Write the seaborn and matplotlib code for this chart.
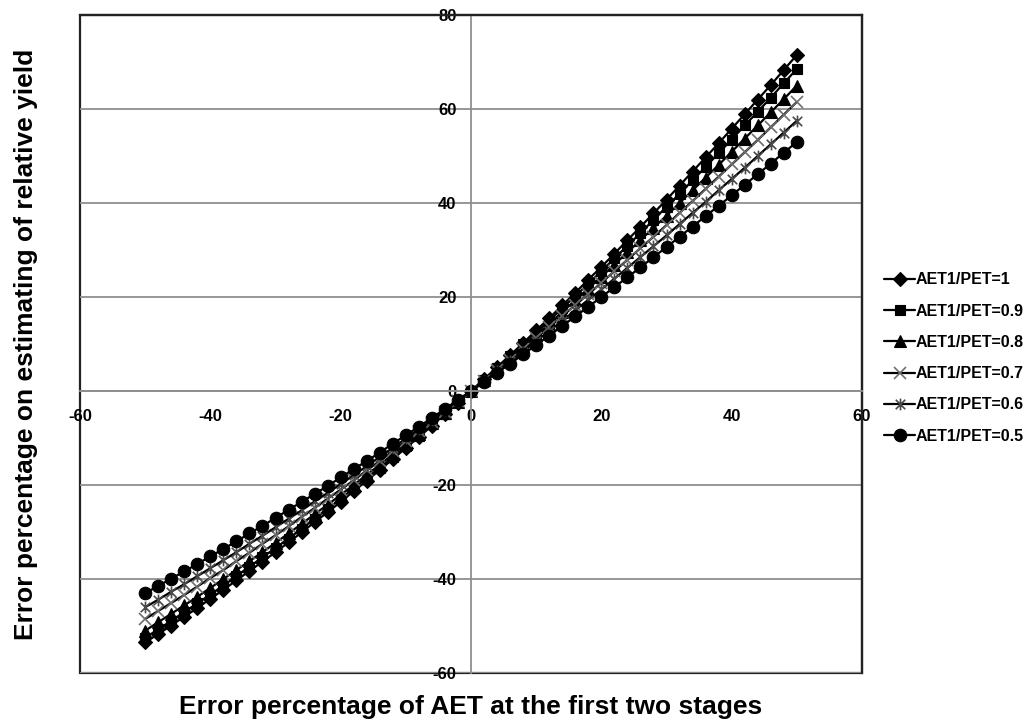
import numpy as np
import pandas as pd
import matplotlib
matplotlib.use("Agg")
import matplotlib.pyplot as plt
from matplotlib.path import Path
import seaborn as sns

# ---------------- data ----------------
x_err = [-50, -48, -46, -44, -42, -40, -38, -36, -34, -32, -30, -28, -26, -24, -22,
         -20, -18, -16, -14, -12, -10, -8, -6, -4, -2, 0, 2, 4, 6, 8, 10, 12, 14,
         16, 18, 20, 22, 24, 26, 28, 30, 32, 34, 36, 38, 40, 42, 44, 46, 48, 50]

y_r10 = [-53.5, -51.7, -49.9, -48.0, -46.2, -44.2, -42.3, -40.3, -38.3, -36.3, -34.3, -32.2, -30.1,
         -27.9, -25.8, -23.6, -21.3, -19.1, -16.8, -14.5, -12.1, -9.8, -7.4, -4.9, -2.5, 0.0,
         2.5, 5.1, 7.6, 10.2, 12.9, 15.5, 18.2, 20.9, 23.7, 26.4, 29.2, 32.1, 34.9, 37.8, 40.7,
         43.7, 46.7, 49.7, 52.7, 55.8, 58.9, 62.0, 65.1, 68.3, 71.5]
y_r09 = [-52.5, -50.7, -48.9, -47.0, -45.2, -43.3, -41.4, -39.4, -37.4, -35.4, -33.4, -31.4, -29.3,
         -27.2, -25.1, -22.9, -20.7, -18.5, -16.3, -14.1, -11.8, -9.5, -7.1, -4.8, -2.4, 0.0,
         2.4, 4.9, 7.4, 9.9, 12.4, 15.0, 17.6, 20.2, 22.8, 25.5, 28.2, 30.9, 33.6, 36.4, 39.2,
         42.0, 44.8, 47.7, 50.6, 53.5, 56.5, 59.4, 62.4, 65.5, 68.5]
y_r08 = [-51.0, -49.2, -47.4, -45.6, -43.8, -41.9, -40.0, -38.1, -36.2, -34.3, -32.3, -30.3, -28.3,
         -26.2, -24.2, -22.1, -20.0, -17.8, -15.7, -13.5, -11.3, -9.1, -6.9, -4.6, -2.3, 0.0,
         2.3, 4.7, 7.1, 9.5, 11.9, 14.3, 16.8, 19.3, 21.8, 24.3, 26.9, 29.5, 32.1, 34.7, 37.3,
         40.0, 42.7, 45.4, 48.1, 50.9, 53.7, 56.5, 59.3, 62.1, 65.0]
y_r07 = [-48.5, -46.8, -45.1, -43.4, -41.6, -39.8, -38.1, -36.2, -34.4, -32.5, -30.7, -28.8, -26.8,
         -24.9, -22.9, -21.0, -19.0, -16.9, -14.9, -12.8, -10.7, -8.6, -6.5, -4.4, -2.2, 0.0,
         2.2, 4.4, 6.7, 9.0, 11.3, 13.6, 15.9, 18.3, 20.6, 23.0, 25.5, 27.9, 30.4, 32.8, 35.3,
         37.9, 40.4, 43.0, 45.6, 48.2, 50.8, 53.4, 56.1, 58.8, 61.5]
y_r06 = [-46.0, -44.4, -42.7, -41.1, -39.4, -37.7, -36.0, -34.3, -32.5, -30.8, -29.0, -27.2, -25.4,
         -23.5, -21.7, -19.8, -17.9, -16.0, -14.0, -12.1, -10.1, -8.1, -6.1, -4.1, -2.1, 0.0,
         2.1, 4.2, 6.3, 8.4, 10.6, 12.8, 14.9, 17.2, 19.4, 21.6, 23.9, 26.2, 28.5, 30.8, 33.1,
         35.5, 37.9, 40.2, 42.7, 45.1, 47.5, 50.0, 52.5, 55.0, 57.5]
y_r05 = [-43.0, -41.5, -39.9, -38.4, -36.8, -35.2, -33.6, -32.0, -30.3, -28.7, -27.0, -25.3, -23.6,
         -21.9, -20.2, -18.4, -16.6, -14.9, -13.1, -11.2, -9.4, -7.6, -5.7, -3.8, -1.9, 0.0,
         1.9, 3.9, 5.8, 7.8, 9.8, 11.8, 13.8, 15.9, 17.9, 20.0, 22.1, 24.2, 26.3, 28.5, 30.6,
         32.8, 35.0, 37.2, 39.4, 41.6, 43.9, 46.1, 48.4, 50.7, 53.0]

series_names = ["AET1/PET=1", "AET1/PET=0.9", "AET1/PET=0.8",
                "AET1/PET=0.7", "AET1/PET=0.6", "AET1/PET=0.5"]
series_values = [y_r10, y_r09, y_r08, y_r07, y_r06, y_r05]

x_ticks = [-60, -40, -20, 0, 20, 40, 60]
y_ticks = [-60, -40, -20, 0, 20, 40, 60, 80]

x_label = "Error percentage of AET at the first two stages"
y_label = "Error percentage on estimating of relative yield"

df = pd.concat(
    [pd.DataFrame({"x": x_err, "y": vals, "series": name})
     for name, vals in zip(series_names, series_values)],
    ignore_index=True)

# ---------------- style ----------------
sns.set_style("white")
plt.rcParams["font.family"] = ["Liberation Sans", "DejaVu Sans"]
plt.rcParams["text.color"] = "black"
plt.rcParams["axes.labelcolor"] = "black"

star = Path([(-1, -1), (1, 1), (-1, 1), (1, -1), (0, -1.25), (0, 1.25)],
            [Path.MOVETO, Path.LINETO, Path.MOVETO, Path.LINETO, Path.MOVETO, Path.LINETO])

styles = {
    "AET1/PET=1":   dict(marker="D", markersize=7.0, markerfacecolor="black", markeredgecolor="black", markeredgewidth=0.8),
    "AET1/PET=0.9": dict(marker="s", markersize=7.5, markerfacecolor="black", markeredgecolor="black", markeredgewidth=0.8),
    "AET1/PET=0.8": dict(marker="^", markersize=8.5, markerfacecolor="black", markeredgecolor="black", markeredgewidth=0.8),
    "AET1/PET=0.7": dict(marker="x", markersize=8.0, markerfacecolor="none", markeredgecolor="#6e6e6e", markeredgewidth=1.2),
    "AET1/PET=0.6": dict(marker=star, markersize=8.5, markerfacecolor="none", markeredgecolor="#4a4a4a", markeredgewidth=1.2),
    "AET1/PET=0.5": dict(marker="o", markersize=9.0, markerfacecolor="black", markeredgecolor="black", markeredgewidth=0.8),
}

W, H = 1033, 723
fig = plt.figure(figsize=(W / 100, H / 100), dpi=100)
ax = fig.add_axes([80 / W, 1 - 673 / H, 782 / W, 658 / H])

for name in series_names:
    sns.lineplot(data=df[df["series"] == name], x="x", y="y", ax=ax,
                 color="black", linewidth=1.6, label=name, legend=False,
                 errorbar=None, sort=False, **styles[name])

ax.set_xlim(-60, 60)
ax.set_ylim(-60, 80)
ax.set_xticks(x_ticks)
ax.set_yticks(y_ticks)
ax.set_xticklabels([str(v) for v in x_ticks])
ax.set_yticklabels([str(v) for v in y_ticks])

grid_col = "#8f8f8f"
ax.yaxis.grid(True, color=grid_col, linewidth=1.3)
ax.xaxis.grid(False)
ax.set_axisbelow(True)

for side in ["left", "bottom"]:
    ax.spines[side].set_position(("data", 0))
    ax.spines[side].set_color(grid_col)
    ax.spines[side].set_linewidth(1.3)
for side in ["top", "right"]:
    ax.spines[side].set_color("#222222")
    ax.spines[side].set_linewidth(1.6)
ax.patch.set_edgecolor("#222222")
ax.patch.set_linewidth(1.6)

ax.tick_params(axis="both", direction="in", length=4, width=1, color=grid_col,
               labelsize=12, labelcolor="black")
ax.tick_params(axis="x", pad=13.0)
ax.tick_params(axis="y", pad=10.5)
for lab in ax.get_xticklabels() + ax.get_yticklabels():
    lab.set_fontweight("bold")

ax.set_xlabel(x_label, fontsize=19, fontweight="bold", color="black")
ax.set_ylabel(y_label, fontsize=19, fontweight="bold", color="black")
ax.xaxis.set_label_coords(0.5, -0.034)
ax.yaxis.set_label_coords(-0.0535, 0.5)

handles, labels = ax.get_legend_handles_labels()
ax.legend(handles, labels, loc="center left",
          bbox_to_anchor=(884 / W, 1 - 358 / H), bbox_transform=fig.transFigure,
          frameon=False, prop={"weight": "bold", "size": 11.5},
          handlelength=1.95, handletextpad=0.05, labelspacing=1.02,
          borderaxespad=0, borderpad=0, numpoints=1)

fig.savefig("out.png", dpi=100, facecolor="white")
